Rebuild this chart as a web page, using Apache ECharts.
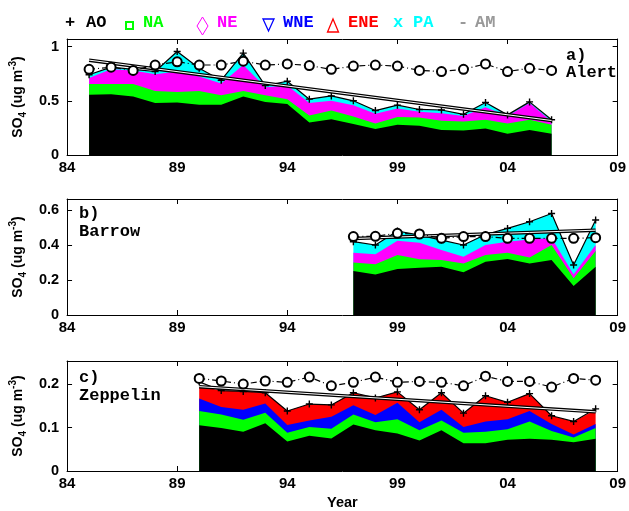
<!DOCTYPE html>
<html><head><meta charset="utf-8">
<script src="https://cdn.jsdelivr.net/npm/echarts@6/dist/echarts.min.js"></script>
<style>html,body{margin:0;padding:0;background:#fff}#c{width:629px;height:511px}</style>
</head><body><div id="c"></div>
<script>
// ---- Panel a: Alert ----
const yearsA = [1985,1986,1987,1988,1989,1990,1991,1992,1993,1994,1995,1996,1997,1998,1999,2000,2001,2002,2003,2004,2005,2006];
const aoA = [0.556,0.56,0.54,0.48,0.485,0.463,0.463,0.54,0.49,0.47,0.30,0.33,0.285,0.24,0.28,0.27,0.23,0.225,0.245,0.195,0.23,0.195];
const naA = [0.098,0.095,0.115,0.11,0.095,0.127,0.087,0.05,0.06,0.045,0.065,0.08,0.07,0.05,0.07,0.075,0.085,0.085,0.08,0.095,0.095,0.085];
const neA = [0.056,0.135,0.125,0.155,0.19,0.135,0.11,0.24,0.075,0.125,0.115,0.09,0.105,0.09,0.08,0.055,0.07,0.05,0.115,0.07,0.155,0.03];
const paA = [0.03,0.02,0.01,0.025,0.185,0.075,0.03,0.11,0.015,0.04,0.035,0.045,0.04,0.03,0.03,0.02,0.03,0.015,0.045,0.01,0.01,0.015];
const obsA = [0.74,0.81,0.79,0.77,0.955,0.80,0.69,0.94,0.64,0.68,0.515,0.545,0.50,0.41,0.46,0.42,0.415,0.375,0.485,0.37,0.49,0.325];
const amA = [0.79,0.81,0.78,0.83,0.86,0.83,0.83,0.865,0.83,0.84,0.825,0.79,0.82,0.83,0.82,0.78,0.77,0.79,0.84,0.77,0.80,0.78];
const trendYearsA = [1985,2006];
const trendA = [0.875,0.318];

// ---- Panel b: Barrow ----
const yearsB = [1997,1998,1999,2000,2001,2002,2003,2004,2005,2006,2007,2008];
const aoB = [0.251,0.232,0.263,0.27,0.276,0.244,0.305,0.32,0.295,0.314,0.166,0.276];
const naB = [0.049,0.058,0.08,0.048,0.038,0.051,0.038,0.036,0.033,0.086,0.044,0.09];
const neB = [0.056,0.057,0.082,0.095,0.057,0.038,0.057,0.063,0.104,0.04,0.022,0.034];
const paB = [0.063,0.053,0.055,0.044,0.057,0.067,0.06,0.076,0.101,0.14,0.054,0.143];
const obsB = [0.419,0.40,0.48,0.457,0.428,0.40,0.46,0.495,0.533,0.58,0.286,0.543];
const amB = [0.448,0.45,0.467,0.463,0.438,0.448,0.448,0.438,0.438,0.438,0.438,0.442];
const trendYearsB = [1997,2008];
const trendB = [0.437,0.485];

// ---- Panel c: Zeppelin ----
const yearsC = [1990,1991,1992,1993,1994,1995,1996,1997,1998,1999,2000,2001,2002,2003,2004,2005,2006,2007,2008];
const aoC = [0.105,0.099,0.09,0.11,0.068,0.081,0.075,0.107,0.094,0.086,0.07,0.094,0.064,0.064,0.072,0.074,0.072,0.066,0.074];
const naC = [0.033,0.031,0.028,0.024,0.02,0.02,0.022,0.023,0.018,0.033,0.024,0.022,0.024,0.026,0.024,0.04,0.02,0.011,0.025];
const wneC = [0.029,0.017,0.023,0.021,0.018,0.015,0.028,0.021,0.017,0.038,0.018,0.025,0.013,0.024,0.023,0.024,0.016,0.007,0.009];
const eneC = [0.028,0.038,0.042,0.025,0.032,0.038,0.027,0.029,0.039,0.025,0.029,0.039,0.032,0.059,0.039,0.04,0.019,0.03,0.033];
const obsC = [0.205,0.185,0.183,0.18,0.138,0.154,0.152,0.18,0.168,0.182,0.141,0.18,0.133,0.173,0.158,0.178,0.127,0.114,0.143];
const amC = [0.213,0.207,0.20,0.207,0.204,0.216,0.196,0.204,0.216,0.204,0.206,0.204,0.196,0.218,0.206,0.206,0.193,0.213,0.209];
const trendYearsC = [1990,2008];
const trendC = [0.194,0.136];

// axis settings
const xTickLabels = ['84','89','94','99','04','09'];
const yMaxes = [1.07, 0.663, 0.253];
const yIntervals = [0.5, 0.2, 0.1];
const BASE = 1984;

const COLORS = {AO:'#000000', NA:'#00ff00', NE:'#ff00ff', WNE:'#0000ff', ENE:'#ff0000', PA:'#00ffff'};

const panels = [
  {years: yearsA, stack: [['AO',aoA],['NA',naA],['NE',neA],['PA',paA]], obs: obsA, am: amA, ty: trendYearsA, tv: trendA},
  {years: yearsB, stack: [['AO',aoB],['NA',naB],['NE',neB],['PA',paB]], obs: obsB, am: amB, ty: trendYearsB, tv: trendB},
  {years: yearsC, stack: [['AO',aoC],['NA',naC],['WNE',wneC],['ENE',eneC]], obs: obsC, am: amC, ty: trendYearsC, tv: trendC}
];

const grids = [
  {left:66, right:7, top:39, height:116},
  {left:66, right:7, top:199, height:116},
  {left:66, right:7, top:361, height:115}
];

const lineCol = {color:'#000', width:1};
const xAxes = [], yAxes = [], series = [];
const yName = '{a|SO}{s|4}{a| (ug m}{p|-3}{a|)}';
const yRich = {
  a:{fontSize:14, fontWeight:'bold', fontFamily:'Liberation Sans', color:'#000', lineHeight:20, verticalAlign:'middle'},
  s:{fontSize:10, fontWeight:'bold', fontFamily:'Liberation Sans', color:'#000', lineHeight:20, verticalAlign:'bottom'},
  p:{fontSize:10, fontWeight:'bold', fontFamily:'Liberation Sans', color:'#000', lineHeight:20, verticalAlign:'top'}
};

panels.forEach((p, i) => {
  const xBase = {gridIndex:i, type:'value', min:0, max:25, interval:5,
    axisLine:{show:true, onZero:false, lineStyle:lineCol},
    axisTick:{show:true, inside:true, length:5, lineStyle:lineCol},
    splitLine:{show:false}};
  xAxes.push(Object.assign({}, xBase, {position:'bottom',
    axisLabel:{formatter:(v)=>xTickLabels[Math.round(v/5)], color:'#000', fontWeight:'bold', fontSize:15, fontFamily:'Liberation Sans', margin:5},
    name: i===2 ? 'Year' : '', nameLocation:'middle', nameGap:24,
    nameTextStyle:{color:'#000', fontWeight:'bold', fontSize:14.5, fontFamily:'Liberation Sans'}}));
  xAxes.push(Object.assign({}, xBase, {position:'top', axisLabel:{show:false}}));
  const yBase = {gridIndex:i, type:'value', min:0, max:yMaxes[i], interval:yIntervals[i],
    axisLine:{show:true, onZero:false, lineStyle:lineCol},
    axisTick:{show:true, inside:true, length:5, lineStyle:lineCol},
    splitLine:{show:false}};
  yAxes.push(Object.assign({}, yBase, {position:'left',
    axisLabel:{showMaxLabel:false, formatter:(v)=> String(+v.toFixed(2)), color:'#000', fontWeight:'bold', fontSize:14.5, fontFamily:'Liberation Sans', margin:8},
    name:yName, nameLocation:'middle', nameGap:36, nameRotate:90, nameTextStyle:{rich:yRich}}));
  yAxes.push(Object.assign({}, yBase, {position:'right', axisLabel:{show:false}}));

  const xi = 2*i, yi = 2*i;
  // cumulative tops of the stacked contributions
  const cum = [];
  let run = p.years.map(()=>0);
  p.stack.forEach(([name, vals]) => {
    run = run.map((r,k)=> r + vals[k]);
    cum.push([name, run.slice()]);
  });
  // draw from the largest cumulative down so each lower band overlays the upper
  cum.slice().reverse().forEach(([name, tops]) => {
    series.push({type:'line', name, xAxisIndex:xi, yAxisIndex:yi,
      data: p.years.map((y,k)=>[y-BASE, tops[k]]),
      symbol:'none', showSymbol:false, lineStyle:{width:0}, itemStyle:{color:COLORS[name]},
      areaStyle:{color:COLORS[name], opacity:1, origin:'start'}, z:1, silent:true});
  });
  series.push({type:'line', name:'obs', xAxisIndex:xi, yAxisIndex:yi,
    data: p.years.map((y,k)=>[y-BASE, p.obs[k]]),
    symbol:'path://M5,0L5,10M0,5L10,5', symbolSize:7, showSymbol:true,
    lineStyle:{color:'#000', width:1.2}, itemStyle:{color:'transparent', borderColor:'#000', borderWidth:1.4}, z:3});
  series.push({type:'line', name:'trendOuter', xAxisIndex:xi, yAxisIndex:yi,
    data: p.ty.map((y,k)=>[y-BASE, p.tv[k]]), symbol:'none', lineStyle:{color:'#000', width:3.5}, z:4});
  series.push({type:'line', name:'trendInner', xAxisIndex:xi, yAxisIndex:yi,
    data: p.ty.map((y,k)=>[y-BASE, p.tv[k]]), symbol:'none', lineStyle:{color:'#fff', width:1}, z:5});
  series.push({type:'line', name:'AM', xAxisIndex:xi, yAxisIndex:yi,
    data: p.years.map((y,k)=>[y-BASE, p.am[k]]),
    symbol:'circle', symbolSize:9, showSymbol:true,
    lineStyle:{color:'#000', width:1.2, type:[6,3,1,3]},
    itemStyle:{color:'#fff', borderColor:'#000', borderWidth:2}, z:6});
});

const mono = {fontFamily:'Liberation Mono', fontWeight:'bold', fontSize:17};
function txt(x, y, s, color, align){ return {type:'text', x, y, style:Object.assign({text:s, fill:color, textAlign:align||'left', textVerticalAlign:'middle'}, mono), z:10}; }

const graphic = [
  txt(65, 23, '+', '#000'), txt(86, 23, 'AO', '#000'),
  {type:'rect', shape:{x:126, y:22, width:7, height:7}, style:{fill:'none', stroke:'#00ff00', lineWidth:2}, z:10},
  txt(143, 23, 'NA', '#00ff00'),
  {type:'polygon', shape:{points:[[202.5,17],[208,26],[202.5,35],[197,26]]}, style:{fill:'none', stroke:'#ff00ff', lineWidth:1}, z:10},
  txt(217, 23, 'NE', '#ff00ff'),
  {type:'polygon', shape:{points:[[263,19],[274,19],[268.5,31]]}, style:{fill:'none', stroke:'#0000ff', lineWidth:1.3}, z:10},
  txt(283, 23, 'WNE', '#0000ff'),
  {type:'polygon', shape:{points:[[333,19],[338.5,32],[327.5,32]]}, style:{fill:'none', stroke:'#ff0000', lineWidth:1.3}, z:10},
  txt(348, 23, 'ENE', '#ff0000'),
  txt(393, 23, 'x', '#00ffff'), txt(413, 23, 'PA', '#00ffff'),
  txt(458, 23, '-', '#999999'), txt(475, 23, 'AM', '#999999'),
  txt(566, 56, 'a)', '#000'), txt(566, 73, 'Alert', '#000'),
  txt(79, 214, 'b)', '#000'), txt(79, 232, 'Barrow', '#000'),
  txt(79, 378, 'c)', '#000'), txt(79, 396, 'Zeppelin', '#000')
];

const chart = echarts.init(document.getElementById('c'), null, {renderer:'canvas'});
chart.setOption({
  animation:false,
  backgroundColor:'#fff',
  grid: grids,
  xAxis: xAxes,
  yAxis: yAxes,
  series,
  graphic
});
</script></body></html>
